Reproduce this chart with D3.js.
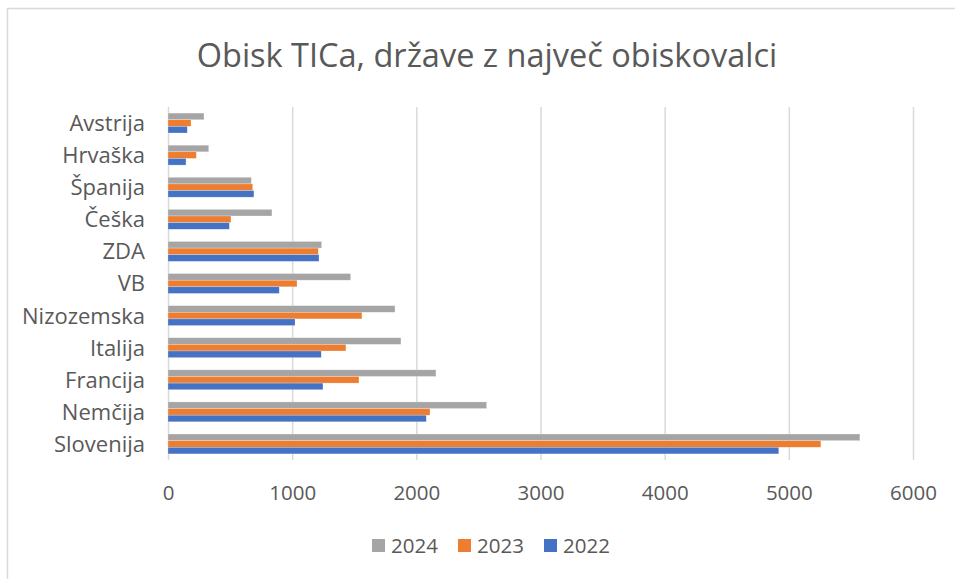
<!DOCTYPE html>
<html>
<head>
<meta charset="utf-8">
<script src="https://cdn.jsdelivr.net/npm/d3@7"></script>
<style>
  body { margin: 0; background: #fff; }
  svg text { font-family: "Open Sans", "Noto Sans", sans-serif; fill: #595959; }
</style>
</head>
<body>
<div id="chart"></div>
<script>
/**
 * DATA
 * */
const countries = ["Avstrija", "Hrvaška", "Španija", "Češka", "ZDA", "VB",
  "Nizozemska", "Italija", "Francija", "Nemčija", "Slovenija"];
const years = ["2024", "2023", "2022"];
const v2024 = [290, 328, 671, 837, 1237, 1471, 1828, 1876, 2158, 2566, 5572];
const v2023 = [185, 228, 682, 507, 1210, 1039, 1562, 1433, 1538, 2110, 5258];
const v2022 = [155, 145, 692, 494, 1216, 896, 1023, 1234, 1248, 2080, 4919];
const xTicks = [0, 1000, 2000, 3000, 4000, 5000, 6000];
const colors = { "2024": "#A5A5A5", "2023": "#ED7D31", "2022": "#4472C4" };

const seriesValues = { "2024": v2024, "2023": v2023, "2022": v2022 };
const rows = countries.map((c, i) => ({
  country: c,
  values: years.map(y => ({ year: y, value: seriesValues[y][i] }))
}));

/**
 * CONSTANTS
 * */
const width = 955,
  height = 579,
  plot = { left: 168, right: 913, top: 107, bottom: 460 };

const svg = d3.select("#chart")
  .append("svg")
  .attr("width", width)
  .attr("height", height);

// chart border (cropped on right / bottom like the source)
svg.append("rect")
  .attr("x", 7.5).attr("y", 8.5)
  .attr("width", 960).attr("height", 600)
  .attr("fill", "none")
  .attr("stroke", "#d9d9d9")
  .attr("stroke-width", 1.5);

/* SCALES */
const x = d3.scaleLinear()
  .domain([0, 6000])
  .range([plot.left, plot.right]);

const y = d3.scaleBand()
  .domain(countries)
  .range([plot.top, plot.bottom])
  .paddingInner(0.38)
  .paddingOuter(0.19);

const ySub = d3.scaleBand()
  .domain(years)
  .range([0, y.bandwidth()]);

/* TITLE */
svg.append("text")
  .attr("x", 487)
  .attr("y", 67)
  .attr("text-anchor", "middle")
  .style("font-size", "32.5px")
  .text("Obisk TICa, države z največ obiskovalci");

/* GRID */
const xAxis = svg.append("g")
  .attr("transform", `translate(0,${plot.bottom})`)
  .call(d3.axisBottom(x).tickValues(xTicks).tickFormat(d3.format("d"))
    .tickSize(plot.bottom - plot.top).tickPadding(0));

xAxis.select(".domain").remove();
xAxis.selectAll(".tick line")
  .attr("transform", `translate(0,${-(plot.bottom - plot.top)})`)
  .attr("stroke", "#d9d9d9")
  .attr("stroke-width", 1.5);
xAxis.selectAll(".tick text")
  .attr("y", 33)
  .attr("dy", "0.35em")
  .style("font-size", "20.5px")
  .style("font-family", null)
  .attr("fill", "#595959");

/* BARS */
const groups = svg.selectAll("g.country")
  .data(rows)
  .join("g")
  .attr("class", "country")
  .attr("transform", d => `translate(0,${y(d.country)})`);

groups.selectAll("rect")
  .data(d => d.values)
  .join("rect")
  .attr("x", x(0))
  .attr("y", d => ySub(d.year))
  .attr("width", d => x(d.value) - x(0))
  .attr("height", ySub.bandwidth())
  .attr("fill", d => colors[d.year])
  .attr("stroke", "#fff")
  .attr("stroke-opacity", 0.5)
  .attr("stroke-width", 0.5);

/* CATEGORY LABELS */
const yAxis = svg.append("g")
  .attr("transform", `translate(${plot.left},0)`)
  .call(d3.axisLeft(y).tickSize(0).tickPadding(23));
yAxis.select(".domain").remove();
yAxis.selectAll(".tick text")
  .attr("dy", "0.36em")
  .style("font-size", "22px")
  .style("font-family", null)
  .attr("fill", "#595959");

/* LEGEND */
const legendX = [372, 458, 544];
const legend = svg.append("g")
  .selectAll("g")
  .data(years)
  .join("g")
  .attr("transform", (d, i) => `translate(${legendX[i]},546)`);

legend.append("rect")
  .attr("x", 0).attr("y", -7)
  .attr("width", 13).attr("height", 13)
  .attr("fill", d => colors[d]);

legend.append("text")
  .attr("x", 19)
  .attr("dy", "0.36em")
  .style("font-size", "20.5px")
  .text(d => d);
</script>
</body>
</html>
